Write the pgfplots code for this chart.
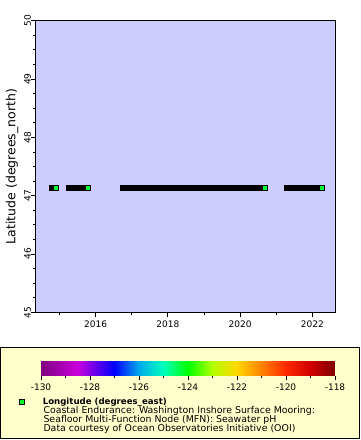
\documentclass[border=0pt]{standalone}
\usepackage{pgfplots}
\pgfplotsset{compat=1.18}
\usepackage{fontspec}
\setmainfont{DejaVu Sans}
\usetikzlibrary{calc}
\definecolor{plotbg}{RGB}{204,204,255}
\definecolor{legbg}{RGB}{255,255,204}
\definecolor{markgreen}{RGB}{0,255,40}
\pgfplotsset{
  colormap={erddaprainbow}{
    rgb255(0cm)=(128,0,128)
    rgb255(3cm)=(200,0,220)
    rgb255(6cm)=(0,0,255)
    rgb255(8cm)=(0,170,235)
    rgb255(10cm)=(0,255,190)
    rgb255(12cm)=(0,255,0)
    rgb255(14cm)=(180,255,0)
    rgb255(16cm)=(255,215,0)
    rgb255(18cm)=(255,130,0)
    rgb255(20cm)=(255,40,0)
    rgb255(22cm)=(210,0,0)
    rgb255(24cm)=(128,0,0)
  }
}
\begin{document}
\begin{tikzpicture}
\useasboundingbox (0,0) rectangle (360pt,-440pt);
\draw[fill=legbg, line width=1pt] (0.5pt,-347.5pt) rectangle (359.5pt,-438.5pt);
\begin{axis}[
  at={(36pt,-312.3pt)}, anchor=south west,
  scale only axis, width=299pt, height=291.6pt,
  xmin=2014.349, xmax=2022.628, ymin=45, ymax=50,
  axis background/.style={fill=plotbg},
  xtick={2016,2018,2020,2022}, minor xtick={2015,2017,2019,2021},
  ytick={45,46,47,48,49,50}, minor y tick num=3,
  tick align=outside, xtick pos=bottom, ytick pos=left,
  major tick length=5pt, minor tick length=3pt,
  tick style={black, line width=0.8pt},
  axis line style={line width=1pt},
  /pgf/number format/assume math mode=true,
  /pgf/number format/1000 sep={},
  tick label style={font=\fontsize{9}{10}\selectfont},
  yticklabel style={rotate=90, anchor=south},
  yticklabel shift=-3.5pt,
  ylabel={Latitude (degrees\_north)},
  ylabel style={font=\fontsize{12.5}{14}\selectfont, at={(axis description cs:-0.08,0.5)}, anchor=center},
  colormap name=erddaprainbow,
  point meta min=-130, point meta max=-118,
  colorbar horizontal,
  colorbar style={
    at={($(parent axis.south west)+(5pt,-55pt)$)}, anchor=south west,
    scale only axis, width=294pt, height=15pt,
    xtick={-130,-128,-126,-124,-122,-120,-118},
    xticklabels={-130,-128,-126,-124,-122,-120,-118},
    minor x tick num=1,
    tick align=outside, xtick pos=bottom,
    major tick length=4pt, minor tick length=2.5pt,
    tick style={black, line width=0.8pt},
    axis line style={draw=none},
    tick label style={font=\fontsize{9}{10}\selectfont},
  },
  legend style={draw=none, fill=none, at={(axis description cs:-0.0569,-0.3076)}, anchor=west,
    inner sep=0pt, outer sep=0pt, column sep=18pt, nodes={inner sep=0pt},
    font=\fontsize{8.6}{10}\selectfont\bfseries},
  legend image code/.code={\draw[black, line width=0.8pt, fill=markgreen] (0pt,-2.5pt) rectangle (5pt,2.5pt);},
]
\addplot[black, line width=6pt, line cap=rect, forget plot] coordinates {(2014.79,47.13) (2014.89,47.13)};
\addplot[black, line width=6pt, line cap=rect, forget plot] coordinates {(2015.26,47.13) (2015.78,47.13)};
\addplot[black, line width=6pt, line cap=rect, forget plot] coordinates {(2016.75,47.13) (2020.68,47.13)};
\addplot[black, line width=6pt, line cap=rect, forget plot] coordinates {(2021.29,47.13) (2022.26,47.13)};
\addplot[scatter, only marks, mark=square*, mark size=2.5pt, point meta=explicit,
  scatter/use mapped color={draw=black, fill=mapped color}, mark options={line width=0.8pt}]
  coordinates {(2014.89,47.13) [-124.27] (2015.78,47.13) [-124.27] (2020.68,47.13) [-124.27] (2022.26,47.13) [-124.27]};
\addlegendentry{Longitude (degrees\_east)}
\end{axis}
\begin{scope}[every node/.style={anchor=base west, inner sep=0pt, font=\fontsize{9.4}{10}\selectfont}]
\node at (43.3pt,-413.7pt) {Coastal Endurance: Washington Inshore Surface Mooring:};
\node at (43.3pt,-422.8pt) {Seafloor Multi-Function Node (MFN): Seawater pH};
\node at (43.3pt,-431.9pt) {Data courtesy of Ocean Observatories Initiative (OOI)};
\end{scope}
\end{tikzpicture}
\end{document}
